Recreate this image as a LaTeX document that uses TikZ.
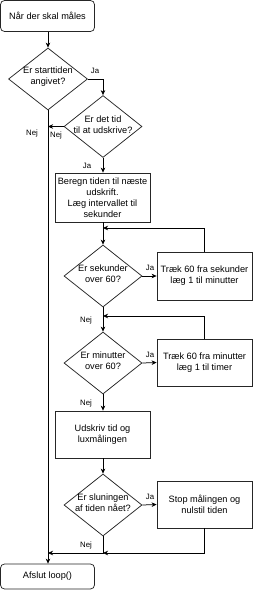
\documentclass[tikz,border=0pt]{standalone}
\usepackage{fontspec}
\setmainfont{Liberation Sans}
\usetikzlibrary{shapes.geometric,arrows.meta}
\begin{document}
\begin{tikzpicture}[x=1pt,y=-1pt,
  every node/.style={font=\fontsize{9.2}{11}\selectfont, align=center, inner sep=0pt},
  boxs/.style={draw=black!85, line width=0.75pt, rectangle},
  rbox/.style={boxs, rounded corners=4pt},
  dia/.style={draw=black!85, line width=0.75pt, diamond, minimum width=#1, minimum height=62pt},
  dia/.default=78pt,
  arr/.style={line width=0.75pt, -{Stealth[length=5pt,width=4.5pt,inset=1.5pt]}},
  ln/.style={line width=0.75pt},
  lbl/.style={font=\fontsize{7.8}{9}\selectfont}
]
\useasboundingbox (0,0) rectangle (253,600);
% nodes
\node[rbox, minimum width=94pt, minimum height=31pt] (start) at (47.5,16) {Når der skal måles};
\node[dia=79pt] (d1) at (48,79) {};
\node (d1t) at (48,77) {Er starttiden\\angivet?};
\node[dia] (d2) at (103,126.5) {};
\node (d2t) at (103,125) {Er det tid\\til at udskrive?};
\node[boxs, minimum width=95pt, minimum height=49pt] (b1) at (102.5,197.5) {Beregn tiden til næste\\udskrift.\\Læg intervallet til\\sekunder};
\node[dia] (d3) at (103,276) {};
\node (d3t) at (103,274) {Er sekunder\\over 60?};
\node[boxs, minimum width=95pt, minimum height=48pt] (r1) at (204.5,276) {Træk 60 fra sekunder\\læg 1 til minutter};
\node[dia] (d4) at (103,363) {};
\node (d4t) at (103,361) {Er minutter\\over 60?};
\node[boxs, minimum width=95pt, minimum height=47pt] (r2) at (204.5,362.5) {Træk 60 fra minutter\\læg 1 til timer};
\node[boxs, minimum width=95pt, minimum height=47pt] (b2) at (102.5,434.5) {Udskriv tid og\\luxmålingen};
\node[dia] (d5) at (103,505) {};
\node (d5t) at (103,503) {Er sluningen\\af tiden nået?};
\node[boxs, minimum width=95pt, minimum height=47pt] (r3) at (204.5,504.5) {Stop målingen og\\nulstil tiden};
\node[rbox, minimum width=94pt, minimum height=25pt] (end) at (47.5,576.5) {Afslut loop()};
% junction coordinates
\coordinate (j1) at (103,228);
\coordinate (j2) at (103,316);
\coordinate (j3) at (103,553);
\coordinate (j4) at (48,553);
% connectors
\draw[arr] (start.south -| d1.north) -- (d1.north);
\draw[arr] (d1.east) -| (d2.north);
\draw[arr] (d1.south) -- (end.north -| d1.south);
\draw[arr] (d2.west) -- (d2.west -| d1.south);
\draw[arr] (d2.south) -- (b1.north -| d2.south);
\draw[arr] (b1.south -| d3.north) -- (d3.north);
\draw[arr] (r1.north) |- (j1);
\draw[arr] (d3.east) -- (r1.west);
\draw[arr] (d3.south) -- (d4.north);
\draw[arr] (r2.north) |- (j2);
\draw[arr] (d4.east) -- (r2.west);
\draw[arr] (d4.south) -- (b2.north -| d4.south);
\draw[arr] (b2.south -| d5.north) -- (d5.north);
\draw[arr] (d5.east) -- (r3.west);
\draw[arr] (r3.south) |- (j3);
\draw[arr] (d5.south) |- (j4);
% labels
\node[lbl] (l1) at (95,71) {Ja};
\node[lbl] (l2) at (32,133) {Nej};
\node[lbl] (l3) at (56,135) {Nej};
\node[lbl] (l4) at (87,166) {Ja};
\node[lbl] (l5) at (150,268) {Ja};
\node[lbl] (l6) at (86,320) {Nej};
\node[lbl] (l7) at (150,355) {Ja};
\node[lbl] (l8) at (86,403) {Nej};
\node[lbl] (l9) at (150,497) {Ja};
\node[lbl] (l10) at (86,545) {Nej};
\end{tikzpicture}
\end{document}
